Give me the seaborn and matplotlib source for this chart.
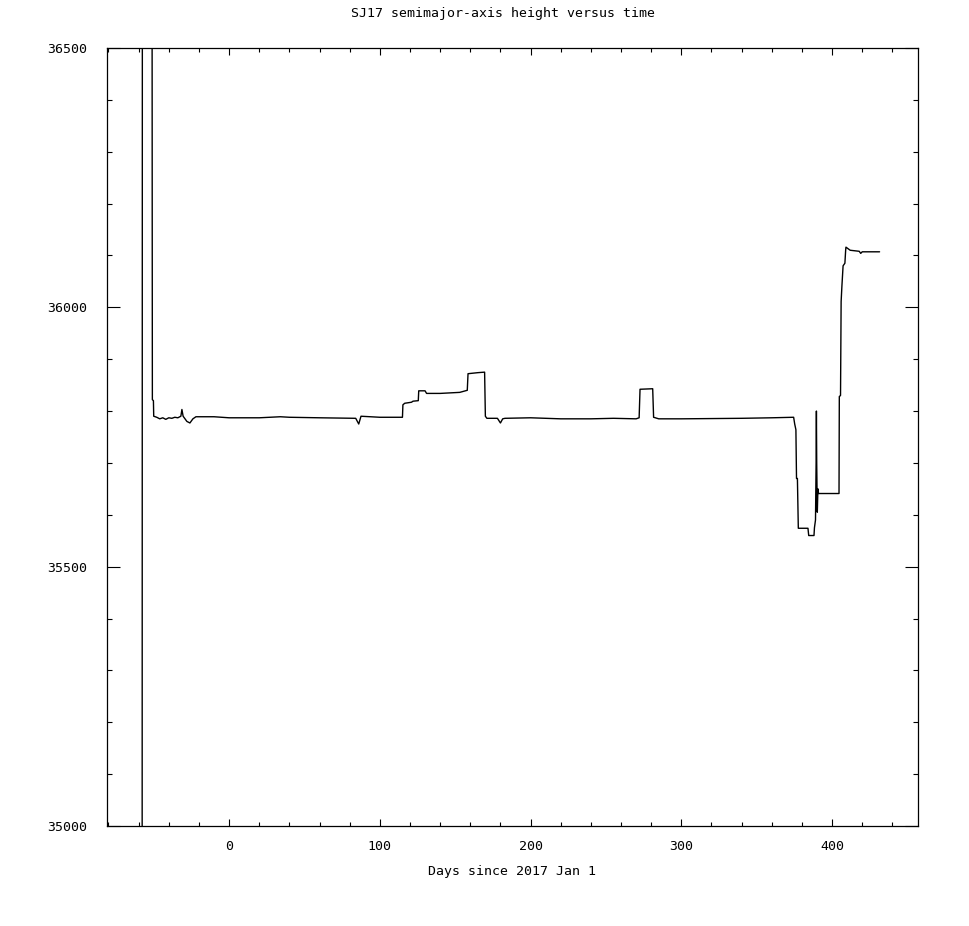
import pandas as pd
import matplotlib
matplotlib.use("Agg")
import matplotlib.pyplot as plt
from matplotlib.ticker import MultipleLocator
import seaborn as sns

# =========================
# DATA
# =========================
days = [
    -57.7, -57.5, -51.2, -51.0, -50.9, -50.2, -50.0, -48, -46, -44, -42, -40,
    -38, -36, -34, -32, -31.3, -30.5, -29.5, -28, -26, -24, -22, -10, 0, 20,
    34, 40, 60, 84, 86, 87.5, 100, 115, 115.3, 116.5, 121, 122, 125.5, 125.8,
    130, 131, 140, 153, 158, 158.5, 165, 169.5, 170.0, 171, 178, 180, 181.5,
    183, 200, 220, 240, 255, 270, 272, 272.6, 281, 281.6, 285, 300, 340, 360,
    374.5, 375.2, 376, 376.4, 377, 377.6, 384, 384.5, 388, 388.3, 389, 389.4,
    389.6, 389.8, 390.2, 390.6, 391, 404.6, 404.8, 405.6, 406, 406.5, 407.3,
    408.5, 409, 409.2, 412, 415, 418, 419, 420, 425, 431.5,
]
heights = [
    34600, 37200, 37200, 36175, 35822, 35820, 35790, 35788, 35785, 35787,
    35784, 35787, 35786, 35788, 35787, 35790, 35803, 35790, 35786, 35780,
    35777, 35785, 35789, 35789, 35787, 35787, 35789, 35788, 35787, 35786,
    35775, 35790, 35788, 35788, 35812, 35815, 35817, 35819, 35820, 35839,
    35839, 35834, 35834, 35836, 35840, 35872, 35874, 35875, 35790, 35786,
    35786, 35777, 35785, 35786, 35787, 35785, 35785, 35786, 35785, 35787,
    35842, 35843, 35788, 35785, 35785, 35786, 35787, 35788, 35775, 35764,
    35670, 35670, 35574, 35574, 35560, 35560, 35575, 35590, 35700, 35800,
    35700, 35605, 35650, 35641, 35641, 35828, 35830, 36011, 36040, 36080,
    36085, 36110, 36116, 36110, 36109, 36108, 36104, 36107, 36107, 36107,
]

TITLE = "SJ17 semimajor-axis height versus time"
XLABEL = "Days since 2017 Jan 1"

# =========================
# SETTINGS
# =========================
sns.set_style("ticks")
plt.rcParams["font.family"] = ["DejaVu Sans Mono"]
plt.rcParams["font.size"] = 9.5
plt.rcParams["text.color"] = "black"
plt.rcParams["axes.labelcolor"] = "black"

df = pd.DataFrame({"day": days, "height": heights})

fig = plt.figure(figsize=(9.7, 9.26), dpi=100)
ax = fig.add_axes([0.1103, 0.108, 0.8361, 0.8402])

sns.lineplot(data=df, x="day", y="height", sort=False, estimator=None,
             color="black", linewidth=1.0, ax=ax)

ax.set_xlim(-81, 457)
ax.set_ylim(35000, 36500)

ax.xaxis.set_major_locator(MultipleLocator(100))
ax.xaxis.set_minor_locator(MultipleLocator(20))
ax.yaxis.set_major_locator(MultipleLocator(500))
ax.yaxis.set_minor_locator(MultipleLocator(100))

ax.tick_params(axis="both", which="both", direction="in",
               top=True, right=True, width=0.8, colors="black",
               labelsize=9.5)
ax.tick_params(axis="x", which="major", length=5, pad=10)
ax.tick_params(axis="x", which="minor", length=3)
ax.tick_params(axis="y", which="major", length=9.5, pad=14)
ax.tick_params(axis="y", which="minor", length=3.6)

for s in ax.spines.values():
    s.set_visible(True)
    s.set_linewidth(0.9)
    s.set_color("black")

ax.set_xlabel(XLABEL, fontsize=9.5, labelpad=9, color="black")
ax.set_ylabel("")
fig.text(0.5185, 0.985, TITLE, ha="center", va="center", fontsize=9.5,
         color="black")

fig.savefig("out.png", dpi=100)
